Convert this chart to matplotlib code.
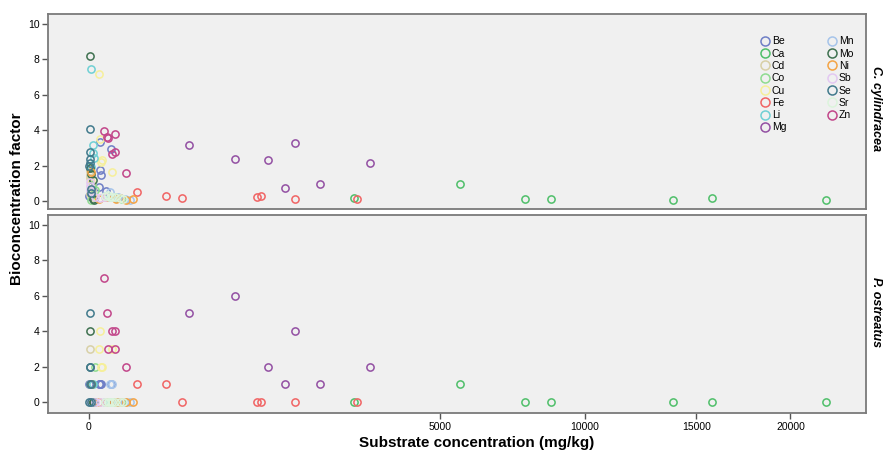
import numpy as np
import matplotlib
matplotlib.use("Agg")
import matplotlib.pyplot as plt
from matplotlib import font_manager

# substrate concentration (mg/kg) and bioconcentration factor per element
# _cyl = C. cylindracea, _ost = P. ostreatus
be_conc = [4.9, 19.7, 5.2, 6.2, 4.3, 12.2, 0.01]
be_cyl = [3.32, 2.94, 1.75, 1.47, 0.77, 0.56, 0.3]
be_ost = [1, 1, 1, 1, 1, 0, 1]

ca_conc = [2865, 5606, 7727, 8665, 13850, 15780, 22060]
ca_cyl = [0.19, 0.98, 0.13, 0.13, 0.07, 0.15, 0.07]
ca_ost = [0, 1, 0, 0, 0, 0, 0]

cd_conc = [0.02, 0.09, 0.25, 0.37, 0.65, 0.06, 0.03]
cd_cyl = [1.47, 1.3, 0.95, 0.6, 0.2, 1.7, 0.4]
cd_ost = [3, 1, 1, 0, 0, 2, 0]

co_conc = [0.37, 0.65, 1.46, 27.5, 34.2, 44.3, 0.16]
co_cyl = [0.9, 0.3, 0.6, 0.2, 0.15, 0.1, 0.05]
co_ost = [1, 0, 2, 0, 0, 0, 0]

cu_conc = [3.8, 4.9, 6.2, 7.2, 21.5, 0.16, 0.65]
cu_cyl = [7.19, 3.48, 2.22, 2.32, 1.66, 1.1, 0.3]
cu_ost = [3, 4, 2, 2, 3, 1, 0]

fe_conc = [94, 243, 352, 1151, 1198, 1733, 2913]
fe_cyl = [0.51, 0.27, 0.15, 0.21, 0.31, 0.10, 0.10]
fe_ost = [1, 1, 0, 0, 0, 0, 0]

li_conc = [0.12, 0.56, 0.82, 1.02, 17.9, 29.6, 0.25]
li_cyl = [7.44, 3.18, 2.69, 2.45, 0.25, 0.15, 1.9]
li_ost = [1, 1, 0, 0, 0, 0, 1]

mg_conc = [404, 867, 1298, 1566, 1730, 2163, 3209]
mg_cyl = [3.18, 2.39, 2.32, 0.73, 3.29, 0.96, 2.15]
mg_ost = [5, 6, 2, 1, 4, 1, 2]

mn_conc = [10.4, 17.4, 34.2, 52.7, 68.3, 39, 21.5]
mn_cyl = [0.3, 0.53, 0.2, 0.12, 0.08, 0.15, 0.25]
mn_ost = [0, 1, 0, 0, 0, 0, 1]

mo_conc = [0.04, 0.07, 0.21, 0.56, 0.16, 0.75, 1.0]
mo_cyl = [8.17, 1.85, 1.5, 1.2, 0.45, 0.1, 0.05]
mo_ost = [4, 1, 1, 0, 0, 0, 0]

ni_conc = [0.21, 4.3, 29.6, 54.7, 79.8, 39, 11.7]
ni_cyl = [1.66, 0.1, 0.1, 0.07, 0.1, 0.15, 0.2]
ni_ost = [1, 0, 0, 0, 0, 0, 0]

sb_conc = [0.02, 0.09, 0.16, 1.46, 10.4, 4.9, 0.03]
sb_cyl = [1.09, 0.85, 0.5, 0.2, 0.25, 0.15, 0.6]
sb_ost = [1, 0, 0, 0, 0, 0, 0]

se_conc = [0.02, 0.07, 0.04, 0.1, 0.15, 0.2, 0.01]
se_cyl = [4.07, 2.77, 2.39, 2.13, 0.68, 0.45, 2.0]
se_ost = [5, 2, 1, 2, 1, 0, 0]

sr_conc = [10.4, 17.9, 27.5, 39, 47, 21.5, 14.7]
sr_cyl = [0.3, 0.25, 0.2, 0.15, 0.1, 0.2, 0.35]
sr_ost = [0, 0, 0, 0, 0, 0, 0]

zn_conc = [8.8, 13.2, 14.2, 20.9, 26.8, 28.1, 55.6]
zn_cyl = [3.95, 3.63, 3.58, 2.66, 2.77, 3.77, 1.56]
zn_ost = [7, 5, 3, 4, 3, 4, 2]

elements = ["Be", "Ca", "Cd", "Co", "Cu", "Fe", "Li", "Mg",
            "Mn", "Mo", "Ni", "Sb", "Se", "Sr", "Zn"]
colors = ["#6f7fc6", "#4fbf6a", "#d8d0a6", "#8fdc90", "#f6ef9a", "#f06464",
          "#6fd0d4", "#9350a3", "#a6c4ea", "#3f7150", "#f4a445", "#e3c8f2",
          "#417a8c", "#dcf4dc", "#c2468a"]
series = [
    (be_conc, be_cyl, be_ost), (ca_conc, ca_cyl, ca_ost), (cd_conc, cd_cyl, cd_ost),
    (co_conc, co_cyl, co_ost), (cu_conc, cu_cyl, cu_ost), (fe_conc, fe_cyl, fe_ost),
    (li_conc, li_cyl, li_ost), (mg_conc, mg_cyl, mg_ost), (mn_conc, mn_cyl, mn_ost),
    (mo_conc, mo_cyl, mo_ost), (ni_conc, ni_cyl, ni_ost), (sb_conc, sb_cyl, sb_ost),
    (se_conc, se_cyl, se_ost), (sr_conc, sr_cyl, sr_ost), (zn_conc, zn_cyl, zn_ost),
]
panel_labels = ["C. cylindracea", "P. ostreatus"]
x_ticks = [0, 5000, 10000, 15000, 20000]
y_ticks = [0, 2, 4, 6, 8, 10]

names = {f.name for f in font_manager.fontManager.ttflist}
narrow = "Liberation Sans Narrow" if "Liberation Sans Narrow" in names else "Liberation Sans"
plt.rcParams["font.family"] = ["Liberation Sans", "DejaVu Sans"]


def fwd(x):
    x = np.asarray(x, dtype=float)
    return np.sign(x) * np.sqrt(np.abs(x))


def inv(y):
    y = np.asarray(y, dtype=float)
    return np.sign(y) * y ** 2


W, H = 883, 453
fig = plt.figure(figsize=(W / 100, H / 100), dpi=100)
ax_top = fig.add_axes([48 / W, 1 - 209 / H, 818 / W, 195 / H])
ax_bot = fig.add_axes([48 / W, 1 - 413 / H, 818 / W, 198 / H])

for i, ax in enumerate([ax_top, ax_bot]):
    ax.set_facecolor("#f0f0f0")
    ax.set_xscale("function", functions=(fwd, inv))
    ax.set_xlim(-68, 24540)
    for name, col, (xc, ycyl, yost) in zip(elements, colors, series):
        yv = ycyl if i == 0 else yost
        ax.plot(xc, yv, "o", ls="none", mfc="none", mec=col, ms=5.2, mew=1.1,
                label=name)
    ax.set_yticks(y_ticks)
    ax.set_xticks(x_ticks)
    for s in ax.spines.values():
        s.set_color("#7a7a7a")
        s.set_linewidth(1.3)
    ax.tick_params(direction="out", length=4, width=1, color="#555555",
                   labelsize=7.5, pad=2)
    for lab in ax.get_yticklabels() + ax.get_xticklabels():
        lab.set_family([narrow, "DejaVu Sans"])

ax_top.set_ylim(-0.45, 10.56)
ax_bot.set_ylim(-0.62, 10.56)
ax_top.tick_params(axis="x", length=0, labelbottom=False)
ax_bot.tick_params(axis="x", pad=2.5)

fig.text(876 / W, 1 - 109 / H, panel_labels[0], rotation=-90, ha="center",
         va="center", fontsize=9, fontweight="bold", fontstyle="italic")
fig.text(876 / W, 1 - 312 / H, panel_labels[1], rotation=-90, ha="center",
         va="center", fontsize=9, fontweight="bold", fontstyle="italic")

ax_top.legend(loc="upper left", bbox_to_anchor=(0.8716, 0.885), ncol=2,
              frameon=False, fontsize=7.5, markerscale=1.25, handlelength=0.8,
              handletextpad=0.25, labelspacing=0.22, columnspacing=4.0,
              borderpad=0, borderaxespad=0)

fig.text(17 / W, 1 - 199 / H, "Bioconcentration factor", rotation=90,
         ha="center", va="center", fontsize=11, fontweight="bold")
fig.text(477 / W, 1 - 443 / H, "Substrate concentration (mg/kg)",
         ha="center", va="center", fontsize=11, fontweight="bold")

fig.savefig("out.png", dpi=100)
